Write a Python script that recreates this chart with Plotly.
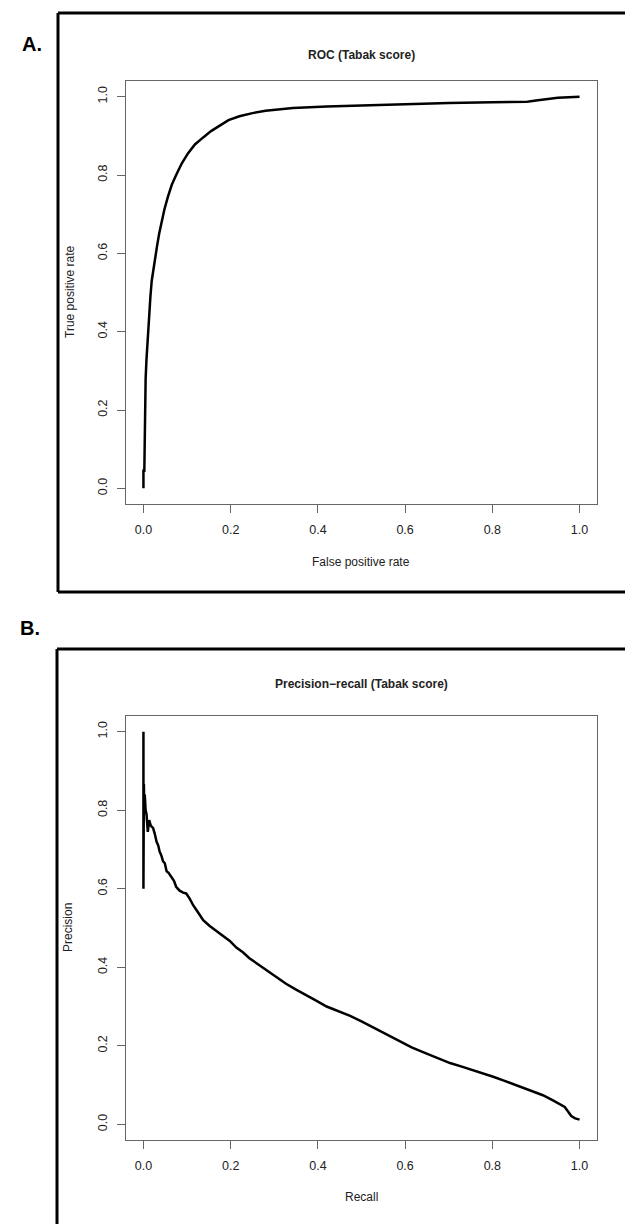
import plotly.graph_objects as go

# ROC curve (Tabak score)
roc_fpr = [0.0, 0.0, 0.002, 0.003, 0.005, 0.007, 0.009, 0.011, 0.013, 0.016, 0.019,
           0.022, 0.025, 0.028, 0.031, 0.036, 0.041, 0.048, 0.056, 0.065, 0.075, 0.088,
           0.102, 0.118, 0.137, 0.155, 0.175, 0.195, 0.22, 0.25, 0.28, 0.343, 0.42, 0.5,
           0.6, 0.7, 0.8, 0.88, 0.9, 0.95, 1.0]
roc_tpr = [0.0, 0.045, 0.045, 0.19, 0.28, 0.33, 0.37, 0.41, 0.45, 0.49, 0.53,
           0.555, 0.58, 0.60, 0.617, 0.65, 0.677, 0.712, 0.744, 0.775, 0.80, 0.83,
           0.855, 0.878, 0.896, 0.912, 0.926, 0.94, 0.95, 0.958, 0.964, 0.971, 0.975, 0.978,
           0.982, 0.984, 0.986, 0.987, 0.99, 0.997, 1.0]

# Precision-recall curve (Tabak score)
pr_recall = [0.0, 0.0, 0.001, 0.002, 0.003, 0.005, 0.007, 0.010, 0.013, 0.017, 0.022,
             0.026, 0.030, 0.034, 0.037, 0.041, 0.045, 0.049, 0.053, 0.058, 0.064, 0.070,
             0.075, 0.083, 0.091, 0.098, 0.106, 0.114, 0.125, 0.137, 0.152, 0.167, 0.183,
             0.198, 0.213, 0.228, 0.243, 0.262, 0.281, 0.304, 0.327, 0.35, 0.373, 0.396,
             0.42, 0.447, 0.474, 0.50, 0.527, 0.558, 0.588, 0.615, 0.641, 0.672, 0.703,
             0.73, 0.756, 0.78, 0.802, 0.825, 0.847, 0.87, 0.893, 0.916, 0.939, 0.953,
             0.966, 0.974, 0.981, 0.99, 1.0]
pr_precision = [1.0, 0.6, 0.867, 0.80, 0.84, 0.80, 0.79, 0.745, 0.775, 0.76, 0.755,
                0.74, 0.72, 0.71, 0.695, 0.685, 0.67, 0.665, 0.645, 0.64, 0.63, 0.62,
                0.605, 0.595, 0.59, 0.588, 0.575, 0.558, 0.54, 0.52, 0.505, 0.492, 0.48,
                0.467, 0.450, 0.438, 0.423, 0.408, 0.393, 0.375, 0.358, 0.343, 0.330, 0.315,
                0.300, 0.288, 0.276, 0.262, 0.246, 0.228, 0.210, 0.196, 0.184, 0.170, 0.156,
                0.147, 0.138, 0.130, 0.121, 0.112, 0.103, 0.094, 0.085, 0.074, 0.061, 0.053,
                0.044, 0.032, 0.021, 0.015, 0.012]

tick_vals = [0.0, 0.2, 0.4, 0.6, 0.8, 1.0]
tick_text = ["0.0", "0.2", "0.4", "0.6", "0.8", "1.0"]

W, H = 625, 1224
FONT = "Liberation Sans, Arial, sans-serif"

fig = go.Figure()
fig.add_trace(go.Scatter(x=roc_fpr, y=roc_tpr, mode="lines",
                         line=dict(color="black", width=2.5), xaxis="x", yaxis="y",
                         showlegend=False, hoverinfo="skip"))
fig.add_trace(go.Scatter(x=pr_recall, y=pr_precision, mode="lines",
                         line=dict(color="black", width=2.5), xaxis="x2", yaxis="y2",
                         showlegend=False, hoverinfo="skip"))

def px_x(p):
    return p / W

def px_y(p):
    return 1 - p / H

axis_common = dict(
    range=[-0.04, 1.04], tickvals=tick_vals, ticktext=tick_text,
    showline=True, mirror=True, linecolor="#666", linewidth=1.3,
    ticks="outside", ticklen=8, tickwidth=1.3, tickcolor="#666",
    showgrid=False, zeroline=False, fixedrange=True,
    tickfont=dict(family=FONT, size=12.5, color="#222"),
)

xdom = [px_x(126), px_x(597)]
fig.update_layout(
    width=W, height=H, margin=dict(l=0, r=0, t=0, b=0),
    paper_bgcolor="white", plot_bgcolor="white",
    xaxis=dict(domain=xdom, anchor="y", ticklabelstandoff=6, **axis_common),
    yaxis=dict(domain=[px_y(504), px_y(81)], anchor="x", tickangle=-90,
               ticklabelstandoff=5, **axis_common),
    xaxis2=dict(domain=xdom, anchor="y2", ticklabelstandoff=6, **axis_common),
    yaxis2=dict(domain=[px_y(1140), px_y(716)], anchor="x2", tickangle=-90,
                ticklabelstandoff=5, **axis_common),
)

annotations = []
def txt(x, y, s, size=12, angle=0, color="#222"):
    annotations.append(dict(
        x=px_x(x), y=px_y(y), xref="paper", yref="paper", text=s, showarrow=False,
        font=dict(family=FONT, size=size, color=color), textangle=angle,
        xanchor="center", yanchor="middle",
    ))

txt(361, 55, "<b>ROC (Tabak score)</b>", 12)
txt(361, 562, "False positive rate", 12)
txt(70, 292, "True positive rate", 12, angle=-90)
txt(361, 684, "<b>Precision\u2212recall (Tabak score)</b>", 12)
txt(361, 1197, "Recall", 12)
txt(68, 928, "Precision", 12, angle=-90)
txt(32, 44, "<b>A.</b>", 20, color="black")
txt(30, 628, "<b>B.</b>", 20, color="black")
fig.update_layout(annotations=annotations)

# Outer frames (open on the right edge)
frame = dict(color="black", width=3)
shapes = [
    dict(type="line", xref="paper", yref="paper", x0=px_x(58), x1=1.02, y0=px_y(13), y1=px_y(13), line=frame),
    dict(type="line", xref="paper", yref="paper", x0=px_x(58), x1=1.02, y0=px_y(592), y1=px_y(592), line=frame),
    dict(type="line", xref="paper", yref="paper", x0=px_x(58), x1=px_x(58), y0=px_y(13), y1=px_y(592), line=frame),
    dict(type="line", xref="paper", yref="paper", x0=px_x(57), x1=1.02, y0=px_y(649), y1=px_y(649), line=frame),
    dict(type="line", xref="paper", yref="paper", x0=px_x(57), x1=px_x(57), y0=px_y(649), y1=-0.01, line=frame),
]
fig.update_layout(shapes=shapes)

fig.write_html("out.html")
